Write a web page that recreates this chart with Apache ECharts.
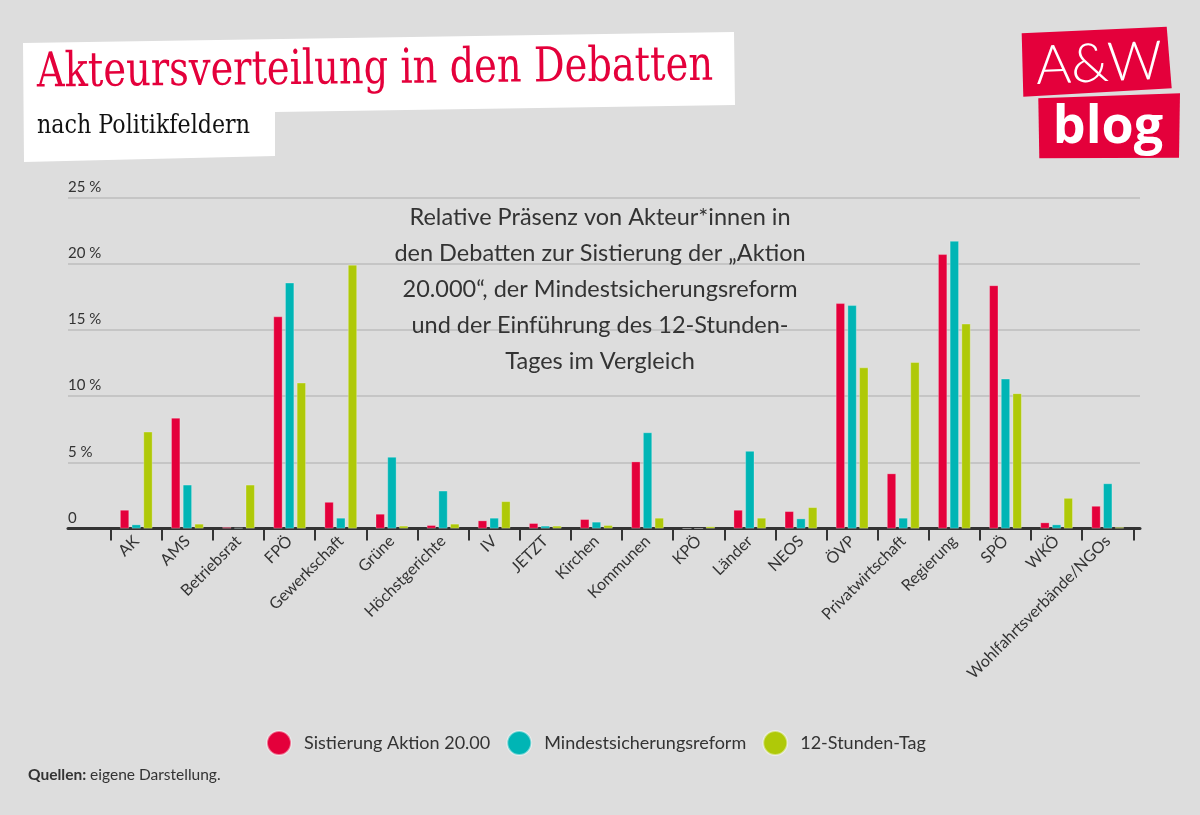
<!DOCTYPE html>
<html><head><meta charset="utf-8">
<script src="https://cdn.jsdelivr.net/npm/echarts@6/dist/echarts.min.js"></script>
<style>html,body{margin:0;padding:0;background:#dddddd}#c{width:1200px;height:815px}</style>
</head><body><div id="c"></div>
<script>
const categories = ['AK','AMS','Betriebsrat','FPÖ','Gewerkschaft','Grüne','Höchstgerichte','IV','JETZT','Kirchen','Kommunen','KPÖ','Länder','NEOS','ÖVP','Privatwirtschaft','Regierung','SPÖ','WKÖ','Wohlfahrtsverbände/NGOs'];
const seriesNames = ['Sistierung Aktion 20.00','Mindestsicherungsreform','12-Stunden-Tag'];
const sistierung = [1.4, 8.35, 0.1, 16.0, 2.0, 1.1, 0.25, 0.6, 0.4, 0.7, 5.05, 0, 1.4, 1.3, 17.0, 4.15, 20.7, 18.35, 0.45, 1.7];
const mindest    = [0.3, 3.3, 0.05, 18.55, 0.8, 5.4, 2.85, 0.8, 0.2, 0.5, 7.25, 0, 5.85, 0.75, 16.85, 0.8, 21.7, 11.3, 0.3, 3.4];
const stunden    = [7.3, 0.35, 3.3, 11.0, 19.9, 0.2, 0.35, 2.05, 0.2, 0.25, 0.8, 0.15, 0.8, 1.6, 12.15, 12.55, 15.45, 10.2, 2.3, 0.1];
const yMin = 0, yMax = 25, yStep = 5;
const titleText = 'Akteursverteilung in den Debatten';
const subtitleText = 'nach Politikfeldern';
const noteText = 'Relative Präsenz von Akteur*innen in\nden Debatten zur Sistierung der „Aktion\n20.000“, der Mindestsicherungsreform\nund der Einführung des 12-Stunden-\nTages im Vergleich';
const sourceText = '{b|Quellen:} eigene Darstellung.';

const colors = ['#e4003b', '#00b5b5', '#afc908'];
const SANS = 'Lato, "Noto Sans", sans-serif';

function fitScale(text, font, target) {
  const ctx = document.createElement('canvas').getContext('2d');
  ctx.font = font;
  return target / ctx.measureText(text).width;
}
const titleFont = '48px "DejaVu Serif"';
const subFont = '26px "DejaVu Serif"';
const titleScale = fitScale(titleText, titleFont, 676);
const subScale = fitScale(subtitleText, subFont, 213);

const chart = echarts.init(document.getElementById('c'), null, {renderer: 'canvas'});
const gridTop = 197.3, gridBottom = 815 - 528.5;

const series = [sistierung, mindest, stunden].map((d, i) => ({
  name: seriesNames[i],
  type: 'bar',
  xAxisIndex: 1,
  yAxisIndex: 1,
  data: d,
  barWidth: 9,
  barGap: '30%',
  itemStyle: {color: colors[i], borderColor: 'rgba(255,255,255,0.45)', borderWidth: 0.6},
  emphasis: {disabled: true}
}));

chart.setOption({
  backgroundColor: '#dddddd',
  animation: false,
  textStyle: {fontFamily: SANS},
  grid: [
    {left: 68, right: 60, top: gridTop, bottom: gridBottom},
    {left: 110.7, right: 66.7, top: gridTop, bottom: gridBottom}
  ],
  xAxis: [
    {type: 'value', gridIndex: 0, min: 0, max: 1, position: 'bottom',
     axisLine: {show: true, onZero: false, lineStyle: {color: '#333', width: 3}},
     axisTick: {show: false}, axisLabel: {show: false}, splitLine: {show: false}},
    {type: 'category', gridIndex: 1, data: categories, position: 'bottom',
     axisLine: {show: true, lineStyle: {color: '#333', width: 3}},
     axisTick: {show: true, length: 12, lineStyle: {color: '#333', width: 2}},
     axisLabel: {rotate: 45, margin: 10, interval: 0, fontSize: 16, color: '#333', fontFamily: SANS}}
  ],
  yAxis: [
    {type: 'value', gridIndex: 0, min: yMin, max: yMax, interval: yStep,
     axisLine: {show: false}, axisTick: {show: false},
     splitLine: {show: true, lineStyle: {color: '#bcbcbc', width: 1.5}},
     axisLabel: {inside: true, margin: 0, align: 'left', verticalAlign: 'bottom', padding: [0, 0, 3, 0],
       fontSize: 15, color: '#333', fontFamily: SANS,
       formatter: v => v === 0 ? '0' : v + ' %'}},
    {type: 'value', gridIndex: 1, min: yMin, max: yMax, interval: yStep, show: false}
  ],
  legend: {
    left: 266, top: 730, padding: 0, icon: 'circle', itemWidth: 24, itemHeight: 24, itemGap: 16,
    data: seriesNames,
    textStyle: {fontSize: 18, color: '#333', fontFamily: SANS, padding: [0, 0, 0, 8]}
  },
  series: series,
  graphic: [
    {type: 'polygon', shape: {points: [[23,43],[734,32],[735,105],[275,112],[275,156],[24,162]]},
     style: {fill: '#ffffff'}, z: 1},
    {type: 'text', x: 37, y: 74, scaleX: titleScale, rotation: 0.01, z: 2,
     style: {text: titleText, font: titleFont, fill: '#e4003b', textAlign: 'left', textVerticalAlign: 'middle'}},
    {type: 'text', x: 37, y: 126, scaleX: subScale, z: 2,
     style: {text: subtitleText, font: subFont, fill: '#111', textAlign: 'left', textVerticalAlign: 'middle'}},
    {type: 'polygon', shape: {points: [[1021.7,33.3],[1166.7,26.7],[1171.7,88.3],[1023.3,96.7]]},
     style: {fill: '#e4003b'}, z: 1},
    {type: 'polygon', shape: {points: [[1038.3,98.3],[1180,93.3],[1179,157.7],[1039.3,158.3]]},
     style: {fill: '#e4003b'}, z: 1},
    {type: 'text', x: 1099, y: 64, rotation: 0.04, z: 2,
     style: {text: 'A&W', font: '300 54px Lato, "Noto Sans", sans-serif', fill: '#fff', textAlign: 'center', textVerticalAlign: 'middle'}},
    {type: 'text', x: 1108, y: 128, z: 2,
     style: {text: 'blog', font: 'bold 52px "Open Sans", "Noto Sans", sans-serif', fill: '#fff', textAlign: 'center', textVerticalAlign: 'middle'}},
    {type: 'text', x: 600, y: 289, z: 2,
     style: {text: noteText, font: '23.5px ' + SANS, lineHeight: 36, fill: '#333', textAlign: 'center', textVerticalAlign: 'middle'}},
    {type: 'text', x: 28, y: 775, z: 2,
     style: {text: sourceText, font: '15.5px ' + SANS, fill: '#333', textAlign: 'left', textVerticalAlign: 'middle',
       rich: {b: {fontWeight: 'bold', fontSize: 15.5, fontFamily: SANS, fill: '#333'}}}}
  ]
});
</script>
</body></html>
